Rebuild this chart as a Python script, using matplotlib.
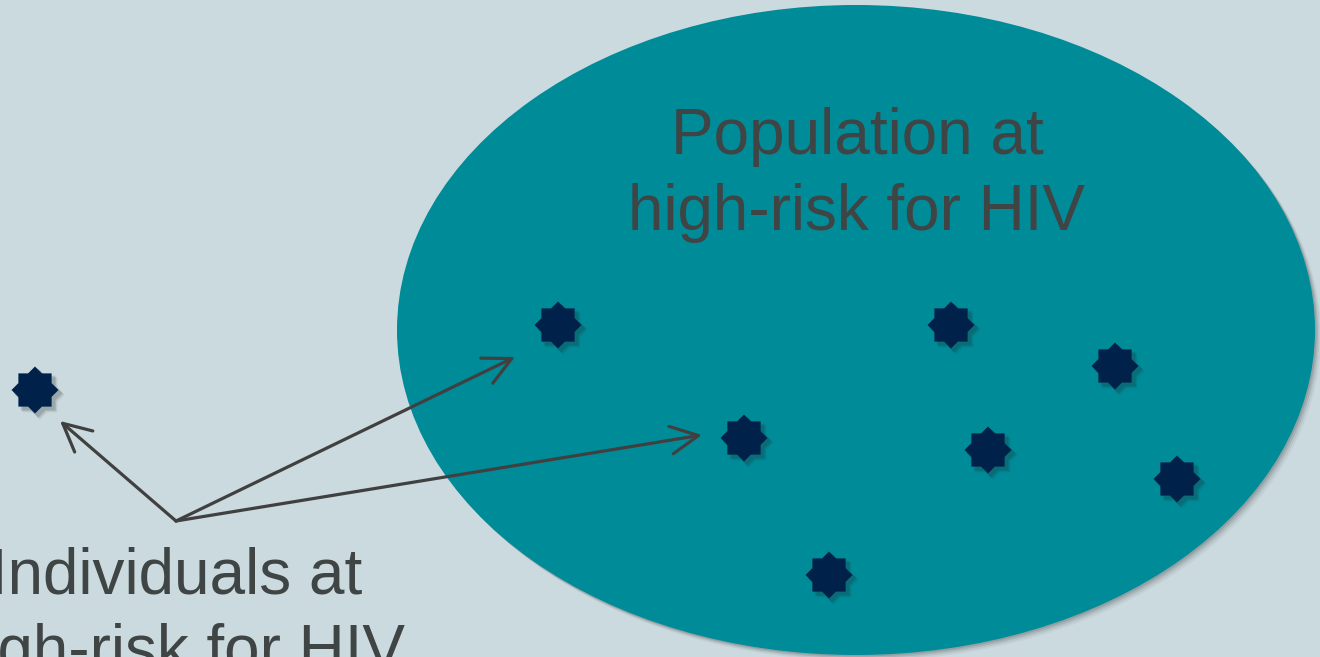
import numpy as np
import matplotlib
matplotlib.use("Agg")
import matplotlib.pyplot as plt
from matplotlib.patches import Ellipse, Polygon, FancyArrowPatch

# Diagram content (pixel coordinates, y down)
STAR_X = [35, 558, 744, 951, 1115, 988, 1177, 829]
STAR_Y = [390, 325, 438, 325, 366, 450, 479, 575]

ARROW_FROM = (176, 521)
ARROW_TO_X = [60, 515, 702]
ARROW_TO_Y = [421, 357, 435]

LABEL_POP = "Population at\nhigh-risk for HIV"
LABEL_IND = "Individuals at\nhigh-risk for HIV"

BG = "#CBDADF"
TEAL = "#008B99"
NAVY = "#00224A"
TEXT = "#3F4444"
W, H = 1320, 657


def star_points(cx, cy, r_out=23.5):
    r_in = r_out * np.cos(np.pi / 4) / np.cos(np.pi / 8)
    ang = np.arange(16) * np.pi / 8
    rad = np.where(np.arange(16) % 2 == 0, r_out, r_in)
    return np.column_stack([cx + rad * np.cos(ang), cy + rad * np.sin(ang)])


fig = plt.figure(figsize=(W / 100, H / 100), dpi=100)
fig.patch.set_facecolor(BG)
ax = fig.add_axes([0, 0, 1, 1])
ax.set_xlim(0, W)
ax.set_ylim(H, 0)
ax.axis("off")

# big ellipse with soft shadow
for k, a in [(6, 0.05), (4.5, 0.08), (3, 0.12), (1.5, 0.15)]:
    ax.add_patch(Ellipse((856 + k, 330 + k), 918, 650, facecolor="#333333",
                         edgecolor="none", alpha=a, zorder=1))
ax.add_patch(Ellipse((856, 330), 918, 650, facecolor=TEAL, edgecolor="none", zorder=2))

ax.text(857, 175, LABEL_POP, ha="center", va="center", fontsize=46,
        family="Liberation Sans", color=TEXT, linespacing=1.36, zorder=5)
ax.text(176, 615, LABEL_IND, ha="center", va="center", fontsize=46,
        family="Liberation Sans", color=TEXT, linespacing=1.36, zorder=5)

# stars with small drop shadow
for x, y in zip(STAR_X, STAR_Y):
    for k, a in [(5, 0.07), (4, 0.1), (3, 0.13)]:
        ax.add_patch(Polygon(star_points(x + k, y + k, 24.5), closed=True,
                             facecolor="#222222", edgecolor="none", alpha=a, zorder=3))
    ax.add_patch(Polygon(star_points(x, y), closed=True, facecolor=NAVY,
                         edgecolor="none", zorder=4))

# arrows
for tx, ty in zip(ARROW_TO_X, ARROW_TO_Y):
    ax.add_patch(FancyArrowPatch(ARROW_FROM, (tx, ty),
                                 arrowstyle="->,head_length=1.0,head_width=0.5",
                                 mutation_scale=20, color="#404040", lw=2.3,
                                 shrinkA=0, shrinkB=0, zorder=6))

fig.savefig("out.png", dpi=100, facecolor=BG)
